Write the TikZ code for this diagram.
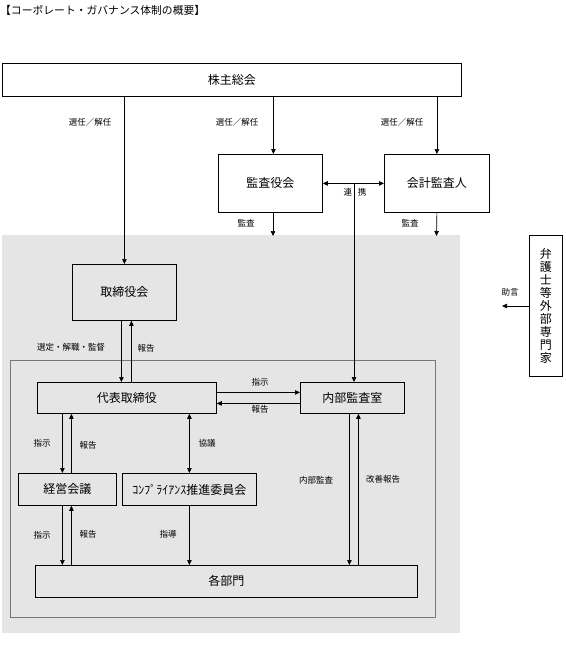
\documentclass[tikz,border=0pt]{standalone}
\usepackage{fontspec}
\setmainfont{Noto Sans CJK JP}
\usetikzlibrary{arrows.meta}
\definecolor{bggray}{RGB}{230,229,229}
\definecolor{linegray}{RGB}{120,120,120}
\begin{document}
\begin{tikzpicture}[x=1pt,y=-1pt,
 box/.style={draw=black, line width=0.8pt, inner sep=0pt, anchor=north west, font=\fontsize{12}{14}\selectfont},
 lbl/.style={font=\fontsize{8.5}{10}\selectfont, inner sep=0pt},
 arr/.style={-{Triangle[length=5pt,width=4.5pt]}, line width=0.7pt},
 darr/.style={{Triangle[length=5pt,width=4.5pt]}-{Triangle[length=5pt,width=4.5pt]}, line width=0.7pt}]
\useasboundingbox (0,0) rectangle (565,645);

% title
\node[anchor=west, inner sep=0pt, font=\fontsize{10.8}{12}\selectfont] (title) at (0,10) {【コーポレート・ガバナンス体制の概要】};

% background areas
\fill[bggray] (2,235) rectangle (460,633);
\draw[linegray, line width=0.7pt] (10,360) rectangle (435,617);

% boxes
\node[box, fill=white, minimum width=459pt, minimum height=33pt] (kabu) at (2,63) {株主総会};
\node[box, fill=white, minimum width=104pt, minimum height=58pt] (kansa) at (218,154) {監査役会};
\node[box, fill=white, minimum width=105pt, minimum height=58pt] (kaikei) at (384,154) {会計監査人};
\node[box, fill=bggray, minimum width=104pt, minimum height=56pt] (tori) at (72,264) {取締役会};
\node[box, fill=white, minimum width=33pt, minimum height=141pt, align=center, font=\fontsize{12}{13}\selectfont] (bengo) at (529,235) {弁\\護\\士\\等\\外\\部\\専\\門\\家};
\node[box, fill=bggray, minimum width=179pt, minimum height=31pt] (daihyo) at (37,382) {代表取締役};
\node[box, fill=bggray, minimum width=104pt, minimum height=31pt] (naibu) at (300,382) {内部監査室};
\node[box, fill=bggray, minimum width=98pt, minimum height=32pt] (keiei) at (18,473) {経営会議};
\node[box, fill=bggray, minimum width=134pt, minimum height=32pt] (comp) at (122,473) {ｺﾝﾌﾟﾗｲｱﾝｽ推進委員会};
\node[box, fill=bggray, minimum width=382pt, minimum height=32pt] (kakubu) at (35,565) {各部門};

% coordinates for free ends
\coordinate (k1) at (273,236);
\coordinate (k2) at (436.5,236);
\coordinate (rk) at (354,183);
\coordinate (jo) at (502,306);

% connectors
\draw[arr] (kabu.south -| tori.north) -- (tori.north);
\draw[arr] ([xshift=3pt]kabu.south -| kansa.north) -- ([xshift=3pt]kansa.north);
\draw[arr] (kabu.south -| kaikei.north) -- (kaikei.north);
\draw[arr] (kansa.south -| k1) -- (k1);
\draw[arr] (kaikei.south) -- (k2);
\draw[darr] (kansa.east) -- (kaikei.west);
\draw[arr] (rk) -- (rk |- naibu.north);
\draw[arr] (bengo.west |- jo) -- (jo);

\draw[arr] ([xshift=-3pt]tori.south) -- ([xshift=-3pt]tori.south |- daihyo.north);
\draw[arr] ([xshift=7pt]tori.south |- daihyo.north) -- ([xshift=7pt]tori.south);

\draw[arr] ([yshift=5.5pt]daihyo.east) -- ([yshift=5.5pt]daihyo.east -| naibu.west);
\draw[arr] ([yshift=-5.5pt]naibu.west) -- ([yshift=-5.5pt]naibu.west -| daihyo.east);

\draw[arr] ([xshift=-5pt]keiei.north |- daihyo.south) -- ([xshift=-5pt]keiei.north);
\draw[arr] ([xshift=4pt]keiei.north) -- ([xshift=4pt]keiei.north |- daihyo.south);
\draw[darr] (comp.north |- daihyo.south) -- (comp.north);

\draw[arr] ([xshift=-5pt]keiei.south) -- ([xshift=-5pt]keiei.south |- kakubu.north);
\draw[arr] ([xshift=4pt]keiei.south |- kakubu.north) -- ([xshift=4pt]keiei.south);
\draw[arr] (comp.south) -- (comp.south |- kakubu.north);

\draw[arr] ([xshift=-3pt]naibu.south) -- ([xshift=-3pt]naibu.south |- kakubu.north);
\draw[arr] ([xshift=6pt]naibu.south |- kakubu.north) -- ([xshift=6pt]naibu.south);

% labels
\node[lbl] (l1) at (90,122) {選任／解任};
\node[lbl] (l2) at (237,122) {選任／解任};
\node[lbl] (l3) at (402,122) {選任／解任};
\node[lbl] (l4) at (246,223) {監査};
\node[lbl] (l5) at (410,223) {監査};
\node[lbl] (l6) at (355,192) {連\hspace{6pt}携};
\node[lbl] (l7) at (510,292) {助言};
\node[lbl] (l8) at (71,347) {選定・解職・監督};
\node[lbl] (l9) at (146,348) {報告};
\node[lbl] (l10) at (260,382) {指示};
\node[lbl] (l11) at (260,409) {報告};
\node[lbl] (l12) at (42,443) {指示};
\node[lbl] (l13) at (88,445) {報告};
\node[lbl] (l14) at (207,443) {協議};
\node[lbl] (l15) at (316,480) {内部監査};
\node[lbl] (l16) at (383,479) {改善報告};
\node[lbl] (l17) at (42,535) {指示};
\node[lbl] (l18) at (88,534) {報告};
\node[lbl] (l19) at (168,534) {指導};
\end{tikzpicture}
\end{document}
